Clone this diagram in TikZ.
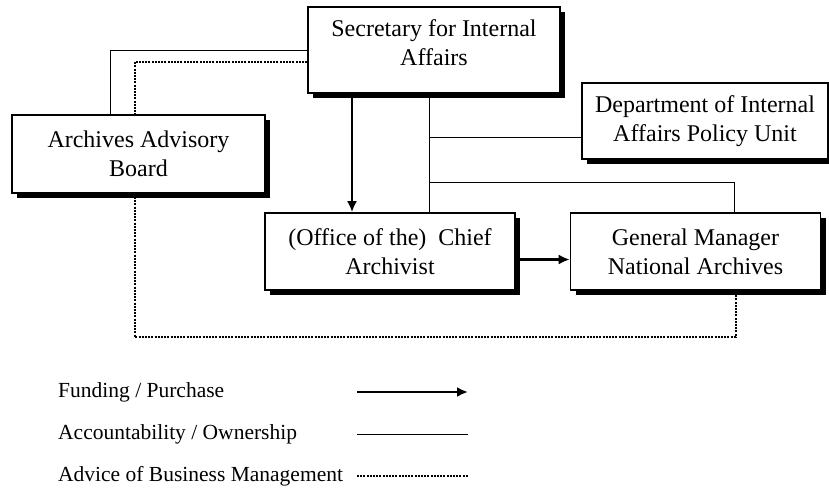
\documentclass[tikz,border=0pt]{standalone}
\usepackage{fontspec}
\setmainfont{Liberation Serif}
\usetikzlibrary{arrows,arrows.meta,positioning,shadows}
\tikzset{box/.style={draw, line width=1.6pt, fill=white, align=center,
    minimum width=250, minimum height=77, inner sep=0pt,
    font=\fontsize{24}{29}\selectfont,
    drop shadow={shadow xshift=5pt, shadow yshift=-5pt, fill=black, opacity=1}}}
\tikzset{fund/.style={line width=2.4pt, -{Latex[length=11pt, width=10pt]}}}
\tikzset{own/.style={line width=0.9pt}}
\tikzset{advice/.style={line width=2pt, dash pattern=on 2pt off 1.2pt}}
\tikzset{legend/.style={anchor=west, inner sep=0pt, font=\fontsize{21.5}{24}\selectfont}}

\begin{document}
\begin{tikzpicture}[x=1pt, y=-1pt]
\useasboundingbox (0,0) rectangle (829,488);
% boxes
\node (sec) [box, minimum width=252, minimum height=86, text depth=14pt] at (434,50) {Secretary for Internal\\Affairs};
\node (board) [box, minimum width=253, minimum height=78] at (138.5,154) {Archives Advisory\\Board};
\node (dept) [box, minimum width=246, minimum height=76] at (705,121) {Department of Internal\\Affairs Policy Unit};
\node (chief) [box] at (390,251.5) {(Office of the)~ Chief\\Archivist};
\node (gm) [box] at (695.5,251.5) {General Manager\\National Archives};
% connectors
\coordinate (mid) at (0,182);
\coordinate (low) at (0,337);
\draw[fund] ([xshift=-82]sec.south) coordinate (sa) -- (sa |- chief.north);
\draw[fund] ([yshift=-8]chief.east) -- ([yshift=-8]gm.west);
\draw[own] (sec.west) -| ([xshift=-28]board.north);
\draw[own] ([xshift=-5]sec.south) coordinate (sb) -- (sb |- chief.north);
\draw[own] ([yshift=-16]dept.west) coordinate (dw) -- (sb |- dw);
\draw[own] (sb |- mid) -| ([xshift=39]gm.north);
\draw[advice] ([yshift=-12]sec.west) -| ([xshift=-4]board.north);
\draw[advice] ([xshift=-4]board.south) coordinate (bd) -- (bd |- low) -| ([xshift=40]gm.south);
% legend
\foreach \y/\txt/\sty in {392/{Funding / Purchase}/fund, 434/{Accountability / Ownership}/own, 476/{Advice of Business Management}/advice}{
  \node (l\y) [legend] at (58,\y) {\txt};
  \draw[\sty] (357,\y) -- (468,\y);
}
\end{tikzpicture}
\end{document}
